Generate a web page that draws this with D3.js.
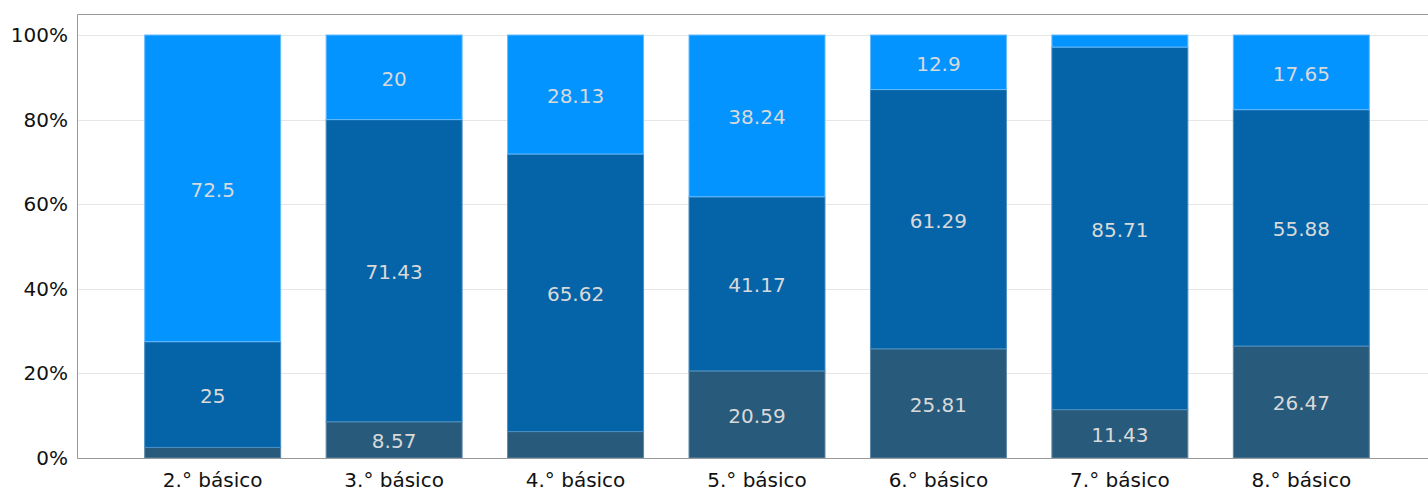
<!DOCTYPE html>
<html><head><meta charset="utf-8">
<script src="https://cdn.jsdelivr.net/npm/d3@7"></script>
<style>body{margin:0;background:#fff}svg{display:block}text{font-family:"DejaVu Sans",sans-serif}</style>
</head><body><svg id="c" width="1428" height="491"></svg>
<script>
const categories = ["2.° básico","3.° básico","4.° básico","5.° básico","6.° básico","7.° básico","8.° básico"];
const seriesBottom = [2.5, 8.57, 6.25, 20.59, 25.81, 11.43, 26.47];
const seriesMiddle = [25, 71.43, 65.62, 41.17, 61.29, 85.71, 55.88];
const seriesTop = [72.5, 20, 28.13, 38.24, 12.9, 2.86, 17.65];
const yTicks = [0, 20, 40, 60, 80, 100];
const colors = ["#285a7c", "#0564a8", "#0394ff"];
const strokes = ["#5f88a8", "#4a8fc4", "#66bbff"];

(function () {
const svg = d3.select("#c");
const padL = 77, padT = 14, padB = 458;
const x = d3.scaleBand().domain(categories).range([121.5, 1392.5]).paddingInner(0.245).paddingOuter(0.125);
const y = d3.scaleLinear().domain([0, 100]).range([padB, 35]);

svg.append("g").selectAll("line").data(yTicks).join("line")
  .attr("x1", padL).attr("x2", 1428).attr("y1", d => Math.round(y(d)) + 0.5).attr("y2", d => Math.round(y(d)) + 0.5)
  .attr("stroke", "#e6e6e6").attr("stroke-width", 1);

const data = categories.map((c, i) => ({cat: c, b: seriesBottom[i], m: seriesMiddle[i], t: seriesTop[i]}));
const stack = d3.stack().keys(["b", "m", "t"])(data);

stack.forEach((layer, li) => {
  const g = svg.append("g");
  g.selectAll("rect").data(layer).join("rect")
    .attr("x", d => x(d.data.cat) + 0.5)
    .attr("width", x.bandwidth() - 1)
    .attr("y", d => y(d[1]))
    .attr("height", d => y(d[0]) - y(d[1]))
    .attr("fill", colors[li])
    .attr("stroke", strokes[li]).attr("stroke-width", 1);
  g.selectAll("text").data(layer.filter(d => (d[1] - d[0]) >= 7)).join("text")
    .attr("x", d => x(d.data.cat) + x.bandwidth() / 2)
    .attr("y", d => y((d[0] + d[1]) / 2))
    .attr("dy", "0.42em")
    .attr("text-anchor", "middle")
    .attr("font-size", 20)
    .attr("fill", "#d9d9d9")
    .text(d => d.data[layer.key]);
});

svg.append("path").attr("d", `M1428,${padT + 0.5}H${padL + 0.5}V${padB + 0.5}H1428`)
  .attr("fill", "none").attr("stroke", "#999").attr("stroke-width", 1);

svg.append("g").selectAll("text").data(yTicks).join("text")
  .attr("x", 68).attr("y", d => y(d)).attr("dy", "0.35em")
  .attr("text-anchor", "end").attr("font-size", 20).attr("fill", "#111")
  .text(d => d + "%");

svg.append("g").selectAll("text").data(categories).join("text")
  .attr("x", d => x(d) + x.bandwidth() / 2).attr("y", 480).attr("dy", "0.35em")
  .attr("text-anchor", "middle").attr("font-size", 20).attr("fill", "#111")
  .text(d => d);
})();
</script></body></html>
